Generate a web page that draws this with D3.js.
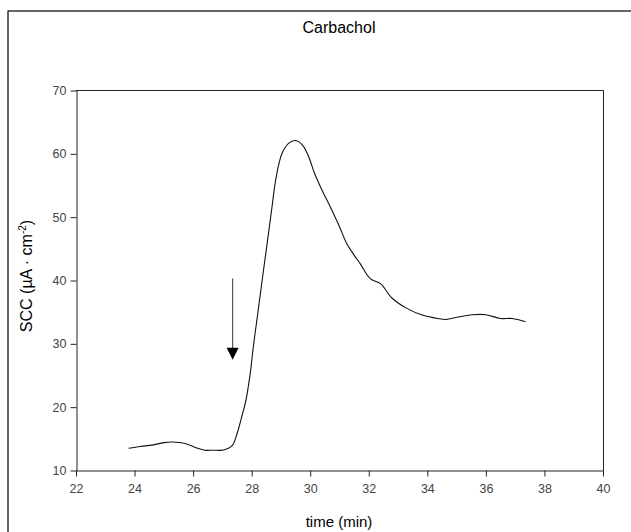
<!DOCTYPE html>
<html><head><meta charset="utf-8">
<script src="https://cdn.jsdelivr.net/npm/d3@7"></script>
<style>body{margin:0;background:#fff}svg{display:block}</style>
</head><body>
<script>
const titleText = "Carbachol";
const xTicks = [22,24,26,28,30,32,34,36,38,40];
const yTicks = [10,20,30,40,50,60,70];
const timeMin = [23.8,24.2,24.6,25.0,25.3,25.7,26.1,26.4,26.7,27.0,27.2,27.35,27.5,27.65,27.8,27.95,28.05,28.2,28.3,28.45,28.6,28.7,28.8,28.95,29.05,29.25,29.5,29.75,29.95,30.15,30.4,30.7,31.0,31.25,31.5,31.7,32.05,32.4,32.8,33.3,33.85,34.35,34.65,35.0,35.55,36.0,36.5,36.9,37.35];
const scc = [13.5,13.8,14.0,14.4,14.5,14.3,13.6,13.2,13.2,13.2,13.5,14.0,15.8,18.3,21.0,25.3,29.3,34.5,38.0,43.2,48.3,51.8,55.3,58.8,60.2,61.6,62.1,61.3,59.5,56.9,54.3,51.5,48.5,45.8,44.0,42.7,40.3,39.5,37.2,35.6,34.5,34.0,33.85,34.2,34.6,34.6,34.0,34.0,33.5];
const arrowTime = [27.35];
const arrowRange = [40.3, 27.5];

const W = 631, H = 532;
const svg = d3.select("body").append("svg").attr("width", W).attr("height", H);
const font = "Liberation Sans, Arial, sans-serif";

// outer frame
svg.append("rect").attr("x",8).attr("y",11).attr("width",640).attr("height",540)
  .attr("fill","none").attr("stroke","#000").attr("stroke-width",1.2);

const x = d3.scaleLinear().domain([22,40]).range([76,603]);
const y = d3.scaleLinear().domain([10,70]).range([470.5,90.5]);

// plot frame top & right
svg.append("line").attr("x1",76).attr("x2",603.5).attr("y1",90.5).attr("y2",90.5).attr("stroke","#222");
svg.append("line").attr("x1",603.5).attr("x2",603.5).attr("y1",90.5).attr("y2",470.5).attr("stroke","#222");

const xAxis = svg.append("g").attr("transform","translate(0,470.5)")
  .call(d3.axisBottom(x).tickValues(xTicks).tickSize(6).tickSizeOuter(0).tickPadding(8));
const yAxis = svg.append("g").attr("transform","translate(76.5,0)")
  .call(d3.axisLeft(y).tickValues(yTicks).tickSize(6).tickSizeOuter(0).tickPadding(4));
[xAxis,yAxis].forEach(g=>{
  g.selectAll("path,line").attr("stroke","#222");
  g.selectAll("text").attr("font-family",font).attr("font-size",12.5).attr("fill","#444");
});

// curve
const line = d3.line().x((d,i)=>x(timeMin[i])).y(d=>y(d)).curve(d3.curveCatmullRom.alpha(0.5));
svg.append("path").datum(scc).attr("d",line).attr("fill","none").attr("stroke","#111").attr("stroke-width",1.1);

// arrow
const ax = x(arrowTime[0]);
svg.append("line").attr("x1",ax).attr("x2",ax).attr("y1",y(arrowRange[0])).attr("y2",y(arrowRange[1])-10)
  .attr("stroke","#555").attr("stroke-width",1.2);
const tip = y(arrowRange[1]);
svg.append("path").attr("d",`M${ax-6},${tip-12}L${ax+6},${tip-12}L${ax},${tip}Z`).attr("fill","#000");

// title
svg.append("text").attr("x",339).attr("y",33).attr("text-anchor","middle")
  .attr("font-family",font).attr("font-size",16).attr("fill","#000").text(titleText);
// x label
svg.append("text").attr("x",339).attr("y",527).attr("text-anchor","middle")
  .attr("font-family",font).attr("font-size",15).attr("fill","#000").text("time (min)");
// y label
const yl = svg.append("text").attr("transform","translate(32,276) rotate(-90)").attr("text-anchor","middle")
  .attr("font-family",font).attr("font-size",16).attr("fill","#000");
yl.append("tspan").text("SCC (µA · cm");
yl.append("tspan").attr("dy",-6).attr("font-size",10).text("-2");
yl.append("tspan").attr("dy",6).text(")");
</script>
</body></html>
